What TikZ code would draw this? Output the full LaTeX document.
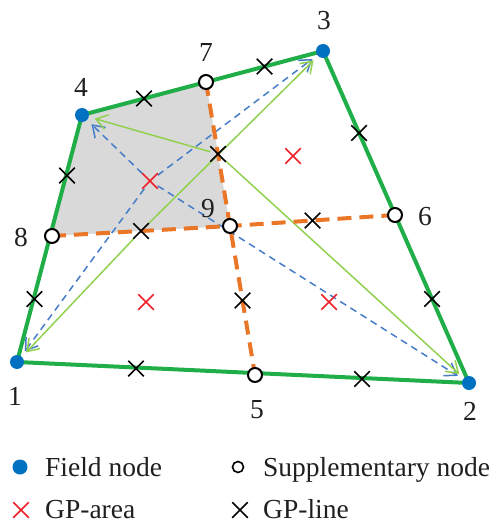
\documentclass[tikz,border=0pt]{standalone}
\usepackage{fontspec}
\setmainfont{Liberation Serif}
\usetikzlibrary{shapes.misc,arrows.meta,calc}

\definecolor{fieldblue}{RGB}{0,112,192}
\definecolor{edgegreen}{RGB}{32,174,72}
\definecolor{splitorange}{RGB}{234,118,40}
\definecolor{flowblue}{RGB}{70,125,200}
\definecolor{flowgreen}{RGB}{146,208,80}
\definecolor{cellgray}{RGB}{217,217,217}
\definecolor{gpred}{RGB}{238,32,40}

\pgfdeclarelayer{bg}
\pgfsetlayers{bg,main}

\tikzstyle{field} = [circle,fill=fieldblue,inner sep=0pt,minimum size=14pt]
\tikzstyle{supp} = [circle,draw=black,fill=white,line width=2pt,inner sep=0pt,minimum size=14pt]
\tikzstyle{gpline} = [cross out,draw=black,line width=1.5pt,inner sep=0pt,minimum size=14pt]
\tikzstyle{gparea} = [cross out,draw=gpred,line width=1.5pt,inner sep=0pt,minimum size=14pt]
\tikzstyle{edge} = [draw=edgegreen,line width=4pt,line join=round]
\tikzstyle{split} = [draw=splitorange,line width=4pt,dash pattern=on 14pt off 8pt]
\tikzstyle{lineflow} = [draw=flowgreen,line width=1.5pt,-{Straight Barb[length=11pt,width=15pt]},shorten >=6pt]
\tikzstyle{areaflow} = [draw=flowblue,line width=1.5pt,dash pattern=on 7pt off 5pt,-{Straight Barb[length=11pt,width=15pt]},shorten >=6pt]
\tikzstyle{every node}=[font=\fontsize{27.5}{32}\selectfont,text=black!88]
\tikzstyle{lbl} = [inner sep=0pt]

\begin{document}
\begin{tikzpicture}[x=1pt,y=-1pt]
    \useasboundingbox (0,0) rectangle (499,532);
	\node[field] (n1) at (17,362) {};
	\node[field] (n2) at (469,383) {};
	\node[field] (n3) at (323,51) {};
	\node[field] (n4) at (82,115) {};
	\node[supp] (n5) at (255,375) {};
	\node[supp] (n6) at (395,215) {};
	\node[supp] (n7) at (206,82) {};
	\node[supp] (n8) at (52,236) {};
	\node[supp] (n9) at (230,226) {};
	\node[lbl] (l1) at (15,396) {1};
	\node[lbl] (l2) at (470,411) {2};
	\node[lbl] (l3) at (324,21) {3};
	\node[lbl] (l4) at (81,87) {4};
	\node[lbl] (l5) at (257,410) {5};
	\node[lbl] (l6) at (425,217) {6};
	\node[lbl] (l7) at (206,52) {7};
	\node[lbl] (l8) at (21,237) {8};
	\node[lbl] (l9) at (208,209) {9};
	\foreach \a/\b in {1/5,5/2,2/6,6/3,3/7,7/4,4/8,8/1,7/9,9/5,8/9,9/6}
	{\node[gpline] (g\a\b) at ($(n\a.center)!0.5!(n\b.center)$) {};}
	\node[gparea] (a1) at (150,181) {};
	\node[gparea] (a2) at (293,156) {};
	\node[gparea] (a3) at (146,302) {};
	\node[gparea] (a4) at (329,302) {};
	\begin{pgfonlayer}{bg}
		\fill[cellgray] (n4.center) -- (n7.center) -- (n9.center) -- (n8.center) -- cycle;
		\foreach \t in {1,2,3,4}
		{\draw[areaflow] (a1) -- (n\t);}
		\draw[lineflow] (g79) -- (n4);
		\draw[lineflow] (g79) -- (n2);
		\draw[lineflow] (g89) -- (n1);
		\draw[lineflow] (g89) -- (n3);
		\draw[edge] (n1.center) -- (n2.center) -- (n3.center) -- (n4.center) -- cycle;
		\draw[split] (n7.center) -- (n9.center) -- (n5.center);
		\draw[split] (n8.center) -- (n9.center) -- (n6.center);
	\end{pgfonlayer}
	\node[field,minimum size=15pt] (kf) at (20,467) {};
	\node[lbl,anchor=base west] (tf) at (45,476) {Field node};
	\node[supp,minimum size=11pt,line width=1.6pt] (ks) at (238,467) {};
	\node[lbl,anchor=base west] (ts) at (263,476) {Supplementary node};
	\node[gparea,minimum size=14pt] (ka) at (21,510) {};
	\node[lbl,anchor=base west] (ta) at (45,518) {GP-area};
	\node[gpline,minimum size=14pt] (kl) at (240,510) {};
	\node[lbl,anchor=base west] (tl) at (263,518) {GP-line};
\end{tikzpicture}
\end{document}
